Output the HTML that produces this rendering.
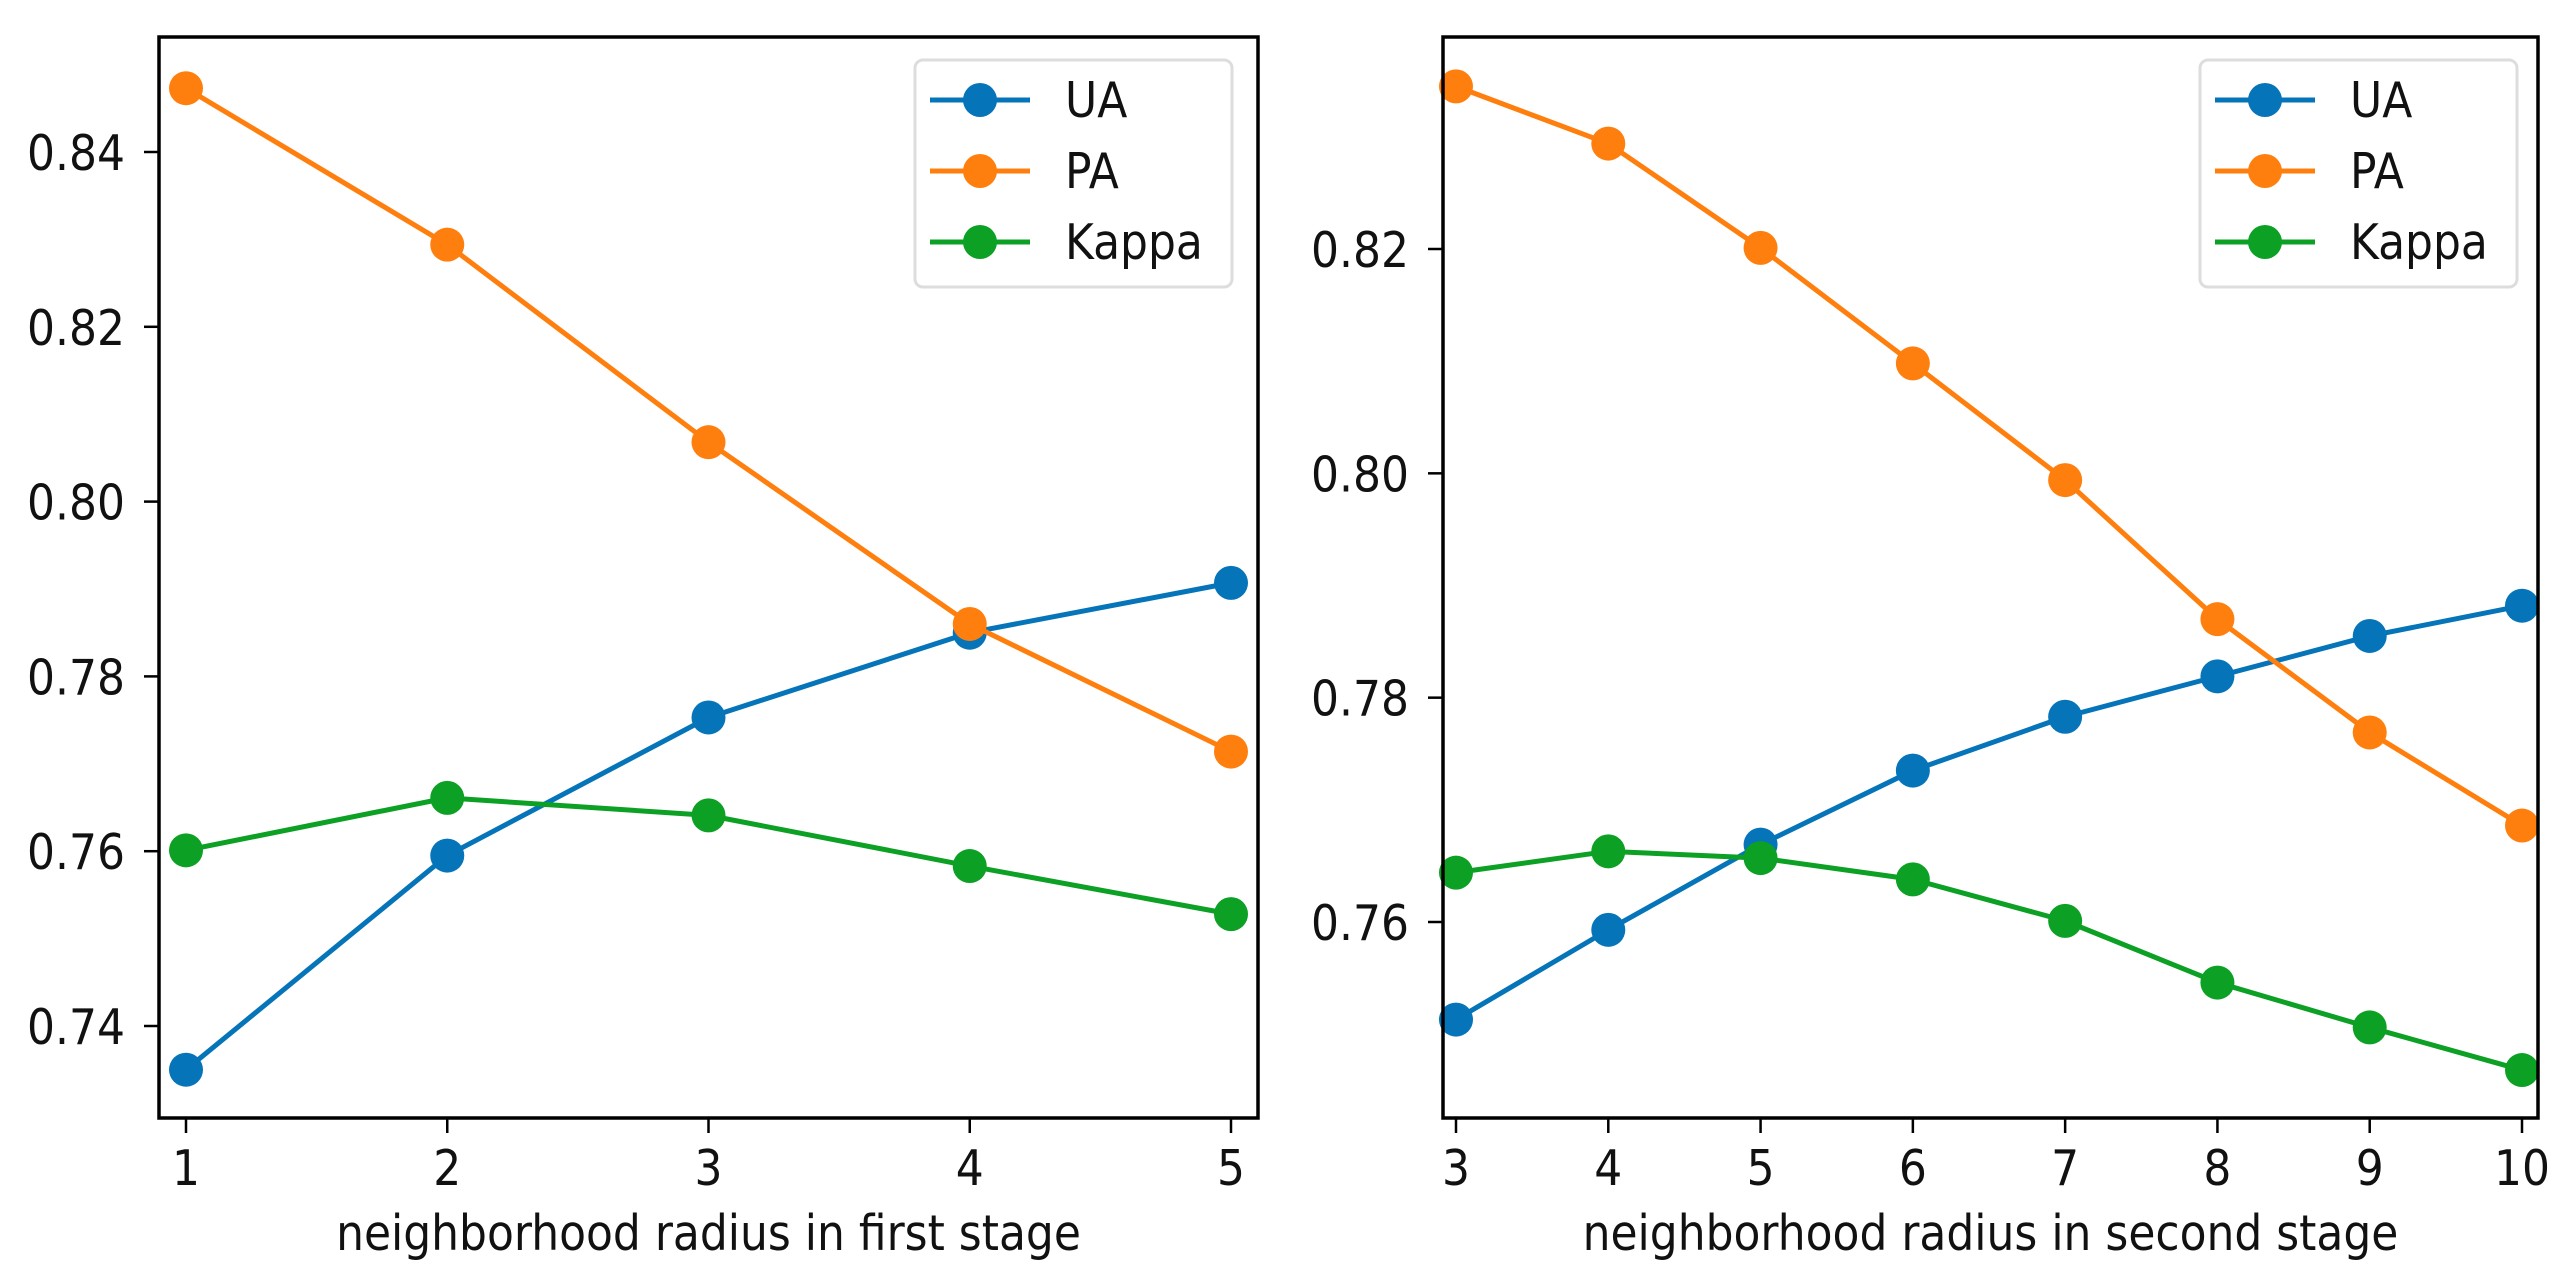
<!DOCTYPE html>
<html><head><meta charset="utf-8"><style>
html,body{margin:0;padding:0;background:#fff;}
svg{display:block;font-family:"DejaVu Sans","Liberation Sans",sans-serif;}
</style></head><body>
<svg id="fig" width="2576" height="1283" viewBox="0 0 2576 1283"></svg>
<script>
const xCats1 = [1, 2, 3, 4, 5];
const ua1 = [0.7350, 0.7595, 0.7753, 0.7850, 0.7907];
const pa1 = [0.8473, 0.8294, 0.8068, 0.7860, 0.7714];
const kappa1 = [0.7601, 0.7661, 0.7641, 0.7583, 0.7528];
const yTicks1 = [0.74, 0.76, 0.78, 0.80, 0.82, 0.84];

const xCats2 = [3, 4, 5, 6, 7, 8, 9, 10];
const ua2 = [0.7513, 0.7593, 0.7669, 0.7735, 0.7783, 0.7819, 0.7855, 0.7882];
const pa2 = [0.8345, 0.8294, 0.8201, 0.8098, 0.7994, 0.7870, 0.7769, 0.7686];
const kappa2 = [0.7644, 0.7663, 0.7657, 0.7638, 0.7601, 0.7546, 0.7506, 0.7468];
const yTicks2 = [0.76, 0.78, 0.80, 0.82];

const seriesNames = ["UA", "PA", "Kappa"];
const colors = ["#0574b8", "#ff7f0e", "#0ca024"];
const NS = "http://www.w3.org/2000/svg";
const svg = document.getElementById("fig");

function mk(tag, attrs, parent) {
  const e = document.createElementNS(NS, tag);
  for (const k in attrs) e.setAttribute(k, attrs[k]);
  (parent || svg).appendChild(e);
  return e;
}
function txt(parent, x, y, s, anchor) {
  const t = mk("text", {x: 0, y: 0, "font-size": 44, "text-anchor": anchor, fill: "#111",
    transform: "translate(" + x + "," + y + ") scale(1,1.12)"}, parent);
  t.textContent = s;
  return t;
}

function panel(cfg) {
  const g = mk("g", {});
  
  
  const xs = v => cfg.px0 + (v - cfg.x0) * (cfg.px1 - cfg.px0) / (cfg.x1 - cfg.x0);
  const ys = v => cfg.py0 + (v - cfg.y0) * (cfg.py1 - cfg.py0) / (cfg.y1 - cfg.y0);
  cfg.series.forEach((vals, si) => {
    const sg = mk("g", {}, g);
    
    
    const pts = vals.map((v, i) => xs(cfg.cats[i]) + "," + ys(v)).join(" ");
    const pl = mk("polyline", {points: pts, fill: "none", stroke: colors[si], "stroke-width": 5, "stroke-linejoin": "round"}, sg);
    
    
    vals.forEach((v, i) => {
      const c = mk("circle", {cx: xs(cfg.cats[i]), cy: ys(v), r: 17, fill: colors[si]}, sg);
      
      
    });
  });
  const fr = mk("rect", {x: cfg.L, y: cfg.T, width: cfg.R - cfg.L, height: cfg.B - cfg.T, fill: "none", stroke: "#000", "stroke-width": 3.5}, g);
  
  
  cfg.cats.forEach(c => {
    const x = xs(c);
    mk("line", {x1: x, x2: x, y1: cfg.B, y2: cfg.B + 15, stroke: "#000", "stroke-width": 2.5}, g);
    const t = txt(g, x, 1185, String(c), "middle");
    
    
  });
  cfg.yticks.forEach(v => {
    const y = ys(v);
    mk("line", {x1: cfg.L - 15, x2: cfg.L, y1: y, y2: y, stroke: "#000", "stroke-width": 2.5}, g);
    const t = txt(g, cfg.L - 34, y + 18, v.toFixed(2), "end");
    
    
  });
  const xl = txt(g, (cfg.L + cfg.R) / 2, 1250, cfg.xlabel, "middle");
  
  
  const lg = mk("g", {}, g);
  
  
  mk("rect", {x: cfg.legX, y: 60, width: 317, height: 227, rx: 8, fill: "#fff", stroke: "#ddd", "stroke-width": 3}, lg);
  seriesNames.forEach((n, i) => {
    const y = 100 + i * 71;
    const e = mk("g", {}, lg);
    
    
    mk("line", {x1: cfg.legX + 15, x2: cfg.legX + 115, y1: y, y2: y, stroke: colors[i], "stroke-width": 5}, e);
    mk("circle", {cx: cfg.legX + 65, cy: y, r: 17, fill: colors[i]}, e);
    txt(e, cfg.legX + 150, y + 17, n, "start");
  });
}

panel({name: "left-chart", L: 159, R: 1258, T: 37, B: 1118,
  x0: 1, x1: 5, px0: 186, px1: 1231, y0: 0.74, y1: 0.84, py0: 1026, py1: 152,
  cats: xCats1, series: [ua1, pa1, kappa1], yticks: yTicks1,
  xlabel: "neighborhood radius in first stage", legX: 915});
panel({name: "right-chart", L: 1443, R: 2538, T: 37, B: 1118,
  x0: 3, x1: 10, px0: 1456, px1: 2522, y0: 0.76, y1: 0.82, py0: 922, py1: 249,
  cats: xCats2, series: [ua2, pa2, kappa2], yticks: yTicks2,
  xlabel: "neighborhood radius in second stage", legX: 2200});
</script>
</body></html>
